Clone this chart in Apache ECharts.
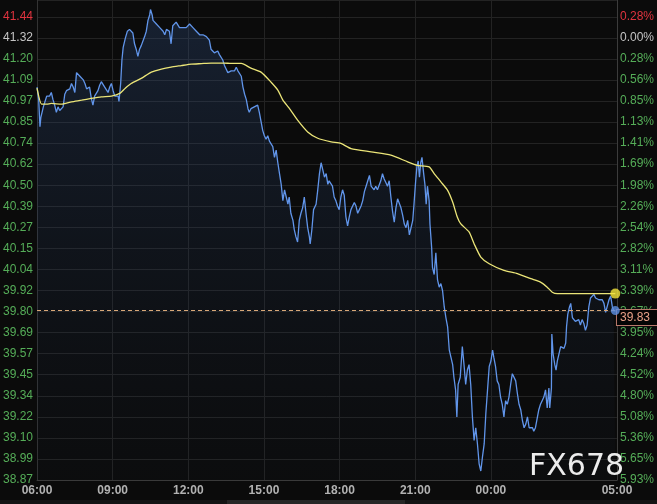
<!DOCTYPE html>
<html><head><meta charset="utf-8">
<script src="https://cdn.jsdelivr.net/npm/echarts@6/dist/echarts.min.js"></script>
<style>html,body{margin:0;padding:0;background:#0b0b0b;}#c{width:657px;height:504px;}</style>
</head><body><div id="c"></div>
<script>
// time = minutes after 06:00
const priceSeries = [[0,41.05],[4,40.98],[7,40.83],[9,40.88],[12,40.87],[15,40.94],[19,40.97],[23,41.00],[27,41.01],[30,41.00],[34,41.02],[38,40.98],[42,40.95],[46,40.91],[50,40.94],[54,40.92],[58,40.93],[62,40.94],[66,41.01],[70,41.03],[74,41.02],[78,41.04],[82,41.07],[86,41.05],[90,41.02],[94,41.13],[98,41.14],[102,41.11],[106,41.12],[110,41.09],[114,41.07],[118,41.04],[122,41.03],[125,41.05],[129,40.99],[133,40.95],[137,41.00],[141,41.01],[145,41.03],[149,41.06],[153,41.08],[157,41.09],[161,41.05],[165,41.06],[169,41.02],[173,41.05],[177,41.07],[181,41.03],[185,41.00],[189,41.01],[193,41.00],[195,40.97],[199,41.07],[202,41.20],[205,41.27],[210,41.32],[215,41.36],[220,41.37],[224,41.38],[228,41.35],[232,41.29],[236,41.26],[240,41.22],[244,41.26],[248,41.28],[252,41.29],[256,41.33],[260,41.36],[264,41.42],[268,41.45],[270,41.48],[274,41.45],[276,41.42],[280,41.41],[284,41.40],[288,41.39],[292,41.38],[296,41.38],[300,41.36],[304,41.34],[308,41.37],[312,41.38],[315,41.36],[319,41.29],[323,41.39],[327,41.40],[331,41.41],[335,41.40],[339,41.38],[343,41.37],[347,41.38],[351,41.39],[355,41.38],[359,41.39],[363,41.40],[367,41.39],[371,41.38],[375,41.37],[379,41.36],[383,41.35],[387,41.34],[391,41.33],[395,41.34],[399,41.35],[403,41.33],[407,41.34],[410,41.31],[414,41.26],[418,41.25],[422,41.24],[426,41.23],[430,41.25],[434,41.23],[438,41.22],[442,41.20],[446,41.17],[450,41.15],[454,41.13],[458,41.12],[462,41.14],[466,41.15],[470,41.14],[474,41.16],[478,41.14],[482,41.13],[486,41.11],[490,41.05],[494,41.01],[498,40.98],[502,40.93],[505,40.91],[509,40.93],[513,40.92],[517,40.94],[521,40.93],[525,40.95],[529,40.91],[533,40.86],[537,40.81],[541,40.78],[545,40.76],[549,40.78],[553,40.75],[557,40.76],[561,40.72],[565,40.66],[569,40.70],[573,40.63],[577,40.57],[581,40.51],[585,40.42],[589,40.48],[593,40.44],[597,40.40],[600,40.44],[604,40.35],[609,40.31],[612,40.26],[616,40.22],[620,40.19],[624,40.31],[628,40.35],[632,40.38],[636,40.44],[640,40.35],[644,40.27],[648,40.22],[650,40.18],[654,40.26],[658,40.37],[664,40.40],[668,40.48],[672,40.57],[676,40.63],[680,40.59],[684,40.55],[688,40.57],[692,40.51],[695,40.53],[699,40.52],[703,40.50],[707,40.44],[711,40.42],[715,40.39],[719,40.37],[723,40.44],[727,40.48],[731,40.45],[735,40.33],[739,40.28],[743,40.33],[747,40.37],[751,40.38],[755,40.41],[759,40.39],[763,40.35],[767,40.37],[771,40.39],[775,40.42],[779,40.47],[783,40.50],[787,40.53],[791,40.56],[795,40.50],[799,40.51],[802,40.48],[806,40.50],[810,40.48],[814,40.49],[818,40.53],[822,40.57],[826,40.54],[830,40.52],[834,40.50],[838,40.53],[842,40.44],[846,40.36],[850,40.30],[854,40.38],[858,40.43],[862,40.43],[866,40.38],[870,40.34],[874,40.29],[878,40.27],[882,40.31],[886,40.23],[890,40.22],[894,40.31],[897,40.40],[901,40.53],[904,40.61],[907,40.64],[910,40.55],[913,40.63],[916,40.66],[920,40.57],[923,40.51],[926,40.40],[929,40.50],[933,40.42],[935,40.29],[939,40.16],[941,40.05],[945,40.01],[949,40.13],[953,39.98],[957,39.94],[961,39.96],[965,39.92],[969,39.83],[973,39.77],[977,39.72],[981,39.59],[985,39.55],[989,39.51],[992,39.44],[996,39.37],[999,39.22],[1002,39.40],[1007,39.44],[1012,39.61],[1016,39.51],[1020,39.40],[1024,39.48],[1028,39.51],[1032,39.40],[1036,39.22],[1040,39.09],[1044,39.16],[1048,39.07],[1052,38.96],[1056,38.92],[1060,39.00],[1064,39.07],[1068,39.24],[1072,39.37],[1076,39.50],[1080,39.53],[1084,39.59],[1087,39.55],[1091,39.50],[1095,39.42],[1099,39.40],[1103,39.33],[1107,39.29],[1111,39.22],[1115,39.31],[1119,39.29],[1123,39.33],[1127,39.40],[1131,39.46],[1135,39.47],[1139,39.42],[1143,39.35],[1147,39.29],[1151,39.26],[1155,39.20],[1159,39.16],[1163,39.18],[1167,39.22],[1171,39.16],[1175,39.15],[1179,39.16],[1182,39.14],[1186,39.16],[1190,39.21],[1194,39.26],[1198,39.29],[1202,39.31],[1206,39.33],[1210,39.37],[1214,39.27],[1218,39.38],[1220,39.27],[1224,39.38],[1225,39.68],[1228,39.57],[1232,39.51],[1235,39.48],[1238,39.53],[1242,39.57],[1246,39.61],[1250,39.62],[1254,39.60],[1258,39.63],[1260,39.72],[1263,39.79],[1267,39.83],[1270,39.85],[1274,39.77],[1277,39.76],[1281,39.75],[1285,39.74],[1289,39.76],[1293,39.73],[1297,39.76],[1301,39.74],[1305,39.70],[1309,39.73],[1313,39.83],[1317,39.88],[1321,39.89],[1325,39.90],[1329,39.88],[1333,39.88],[1337,39.87],[1341,39.88],[1345,39.87],[1349,39.85],[1353,39.80],[1357,39.79],[1361,39.87],[1365,39.89],[1369,39.83],[1372,39.81],[1376,39.81]];
const maSeries = [[0,41.044],[11,40.955],[23,40.955],[34,40.959],[58,40.955],[82,40.968],[106,40.977],[129,40.987],[153,40.996],[177,41.000],[197,41.015],[210,41.044],[224,41.070],[248,41.098],[272,41.133],[296,41.150],[319,41.161],[343,41.169],[367,41.177],[391,41.180],[414,41.183],[445,41.183],[462,41.181],[486,41.181],[509,41.155],[533,41.133],[557,41.077],[573,41.033],[585,40.977],[600,40.933],[620,40.866],[644,40.801],[668,40.766],[700,40.746],[723,40.737],[747,40.709],[795,40.690],[842,40.672],[882,40.635],[905,40.616],[933,40.607],[945,40.570],[961,40.524],[977,40.477],[989,40.412],[1000,40.329],[1008,40.292],[1028,40.246],[1040,40.181],[1056,40.107],[1076,40.070],[1111,40.033],[1143,40.015],[1175,39.987],[1198,39.968],[1214,39.940],[1226,39.912],[1238,39.904],[1293,39.904],[1376,39.904]];
const xTickMinutes = [0,180,360,540,720,900,1080,1380];
const xTickLabels = ['06:00','09:00','12:00','15:00','18:00','21:00','00:00','05:00'];
const leftTickLabels = ['38.87','38.99','39.10','39.22','39.34','39.45','39.57','39.69','39.80','39.92','40.04','40.15','40.27','40.39','40.50','40.62','40.74','40.85','40.97','41.09','41.20','41.32','41.44'];
const rightTickLabels = ['5.93%','5.65%','5.36%','5.08%','4.80%','4.52%','4.24%','3.95%','3.67%','3.39%','3.11%','2.82%','2.54%','2.26%','1.98%','1.69%','1.41%','1.13%','0.85%','0.56%','0.28%','0.00%','0.28%'];
const lastQuote = '39.83';

const yMin = 38.87, yTop = 41.44, yMax = 41.533;
const yStep = (yTop - yMin) / (leftTickLabels.length - 1);
const FONT = "'Liberation Sans', Arial, sans-serif";

function tickText(labels) {
  return function (v) {
    const i = Math.round((v - yMin) / yStep);
    if (i < 0 || i >= labels.length || Math.abs(v - (yMin + i * yStep)) > 1e-6) return '';
    const k = i === labels.length - 1 ? 'r' : (i === labels.length - 2 ? 'w' : 'g');
    return '{' + k + '|' + labels[i] + '}';
  };
}
const rich = {
  r: {color: '#e0343f', fontSize: 12, fontFamily: FONT},
  w: {color: '#c4c4c4', fontSize: 12, fontFamily: FONT},
  g: {color: '#55ad58', fontSize: 12, fontFamily: FONT}
};
const gridLine = {show: true, lineStyle: {color: '#232323', width: 1}};
const lastPrice = priceSeries[priceSeries.length - 1];
const lastMa = maSeries[maSeries.length - 1];

const chart = echarts.init(document.getElementById('c'), null, {renderer: 'canvas'});
chart.setOption({
  backgroundColor: '#0b0b0b',
  animation: false,
  grid: {left: 36, right: 40, top: 0, bottom: 24, containLabel: false},
  xAxis: {
    type: 'value', min: 0, max: 1380,
    axisLine: {show: true, lineStyle: {color: '#3a3a3a'}},
    axisTick: {show: false, customValues: xTickMinutes},
    splitLine: gridLine,
    axisLabel: {
      customValues: xTickMinutes, margin: 5,
      color: '#b2b2b2', fontSize: 12, fontWeight: 'bold', fontFamily: FONT,
      formatter: v => xTickLabels[xTickMinutes.indexOf(v)] || ''
    }
  },
  yAxis: [
    {
      type: 'value', min: yMin, max: yMax, interval: yStep, position: 'left',
      axisLine: {show: true, lineStyle: {color: '#333'}},
      axisTick: {show: false}, splitLine: gridLine,
      axisLabel: {formatter: tickText(leftTickLabels), rich: rich, margin: 4, showMaxLabel: true}
    },
    {
      type: 'value', min: yMin, max: yMax, interval: yStep, position: 'right',
      axisLine: {show: true, lineStyle: {color: '#3c3c3c'}},
      axisTick: {show: false}, splitLine: {show: false},
      axisLabel: {formatter: tickText(rightTickLabels), rich: rich, margin: 3, showMaxLabel: true}
    }
  ],
  series: [
    {
      type: 'line', data: priceSeries, showSymbol: false, symbol: 'none',
      lineStyle: {color: '#6195ea', width: 1.3},
      areaStyle: {color: new echarts.graphic.LinearGradient(0, 0, 0, 1, [
        {offset: 0, color: 'rgba(52,86,142,0.42)'},
        {offset: 1, color: 'rgba(25,40,65,0.08)'}
      ])},
      z: 3,
      markLine: {
        silent: true, symbol: 'none',
        lineStyle: {color: '#d9a878', type: [4, 3], width: 1},
        label: {
          show: true, position: 'end', distance: 0, offset: [0, 7],
          formatter: lastQuote, color: '#e8a088', fontSize: 12, fontFamily: FONT,
          backgroundColor: '#050505', borderColor: '#b9786a', borderWidth: 1,
          padding: [2, 12, 1, 3]
        },
        data: [{yAxis: lastPrice[1]}]
      }
    },
    {
      type: 'line', data: maSeries, showSymbol: false, symbol: 'none', smooth: 0.2,
      lineStyle: {color: '#ebe578', width: 1.3}, z: 4
    },
    {
      type: 'scatter', data: [lastPrice], symbolSize: 9,
      itemStyle: {color: '#5b8ee3'}, z: 5
    },
    {
      type: 'scatter', data: [lastMa], symbolSize: 10,
      itemStyle: {color: '#f3e43a'}, z: 6
    }
  ],
  graphic: [
    {type: 'text', left: 529, top: 452, z: 10, silent: true,
     style: {text: 'FX678', fill: '#ececec', font: "30px 'DejaVu Sans', sans-serif"}},
    {type: 'rect', left: 0, top: 500, z: 1, silent: true, shape: {width: 657, height: 4}, style: {fill: '#141414'}},
    {type: 'rect', left: 227, top: 500, z: 2, silent: true, shape: {width: 178, height: 4}, style: {fill: '#262626'}}
  ]
});
</script>
</body></html>
